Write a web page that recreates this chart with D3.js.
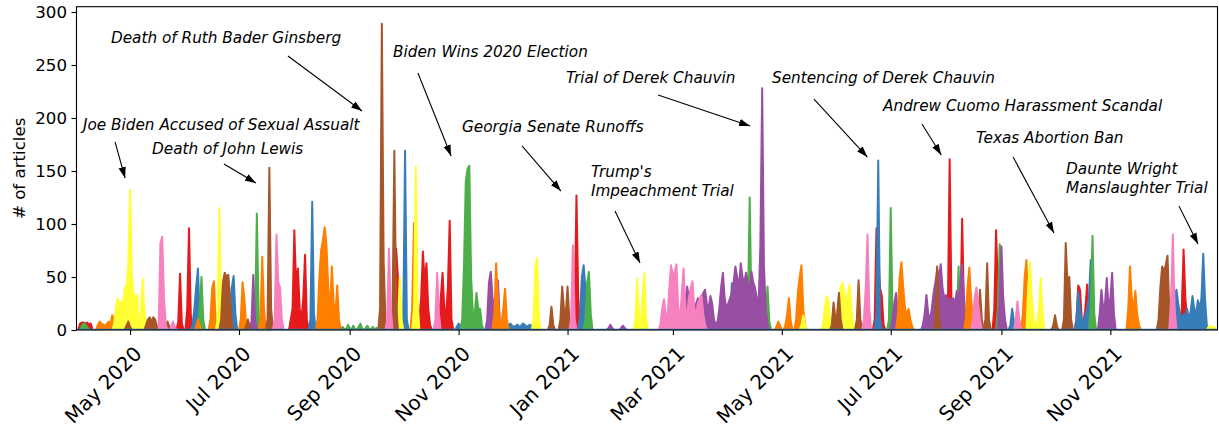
<!DOCTYPE html>
<html>
<head>
<meta charset="utf-8">
<script src="https://cdn.jsdelivr.net/npm/d3@7"></script>
<style>
  body { margin: 0; background: #fff; }
  svg text { font-family: "DejaVu Sans", sans-serif; fill: #000; }
</style>
</head>
<body>
<svg id="chart" width="1219" height="428"></svg>
<script>
// ---------- DATA ----------
// Each event: [first day, daily article counts from that day on]
const seriesNames = ["red", "blue", "green", "purple", "orange", "yellow", "brown", "pink"];

const redEvents = [
  ["2020-04-03", [6, 7, 7, 6, 7, 5, 6]],
  ["2020-05-28", [8, 53, 6]],
  ["2020-06-02", [20, 96, 15]],
  ["2020-07-30", [10, 20, 94, 40, 58, 20, 10, 30, 71, 10]],
  ["2020-09-27", [77, 50, 20]],
  ["2020-10-10", [10, 30, 74, 45, 63, 20, 5]],
  ["2020-10-21", [10, 30, 54, 20, 15, 40, 103, 10]],
  ["2021-01-05", [20, 127, 30]],
  ["2021-06-22", [10, 96, 70, 40, 32, 5]],
  ["2021-08-02", [20, 161, 25]],
  ["2021-08-09", [15, 105, 20]],
  ["2021-08-28", [20, 94, 40, 10]],
  ["2021-10-13", [10, 42, 38, 10, 8, 20, 43, 10]],
  ["2021-12-11", [20, 76, 30, 10]]
];

const blueEvents = [
  ["2020-06-05", [5, 20, 40, 58, 10]],
  ["2020-06-23", [5, 15, 8, 20, 40, 51, 15]],
  ["2020-08-10", [10, 121, 15]],
  ["2020-10-01", [8, 169, 10]],
  ["2020-10-31", [3, 6, 4]],
  ["2020-11-25", [3, 5, 4, 3, 5, 6, 4, 3, 4, 5, 3, 4, 6, 5, 3, 4, 5, 3]],
  ["2021-01-08", [15, 50, 61, 40, 10]],
  ["2021-04-02", [10, 44, 10]],
  ["2021-06-23", [15, 160, 10]],
  ["2021-08-23", [5, 16, 5]],
  ["2021-09-06", [5, 20, 8]],
  ["2021-10-13", [10, 36, 20, 5, 10, 15, 20, 30, 66, 10]],
  ["2021-11-28", [5, 15, 25, 20, 15, 20, 25, 15, 20, 30, 38, 25, 15, 10, 15, 12, 20, 10, 18, 32, 20, 15, 28, 20, 30, 72, 30, 5]]
];

const greenEvents = [
  ["2020-04-04", [4, 6, 5, 3]],
  ["2020-06-09", [20, 50, 10]],
  ["2020-07-10", [10, 110, 15]],
  ["2020-08-27", [0, 3, 1, 0, 5, 2, 0, 4, 1, 0, 3, 6, 1, 0, 2, 4, 0, 1, 3, 0, 2]],
  ["2020-11-03", [10, 60, 140, 152, 155, 50, 15, 15, 35, 20, 20, 5]],
  ["2021-01-11", [10, 45, 55, 15]],
  ["2021-04-12", [15, 125, 20]],
  ["2021-04-22", [10, 41, 8]],
  ["2021-06-30", [10, 115, 15]],
  ["2021-08-07", [10, 60, 5]],
  ["2021-08-30", [20, 81, 30]],
  ["2021-10-21", [20, 89, 15]]
];

const purpleEvents = [
  ["2020-07-08", [8, 52, 10]],
  ["2020-08-15", [10, 72, 20]],
  ["2020-11-17", [10, 45, 55, 30, 20, 30, 47, 10]],
  ["2021-01-24", [2, 5, 2]],
  ["2021-01-31", [2, 4, 2]],
  ["2021-03-06", [5, 15, 30, 41, 30, 20, 28, 20, 25, 30, 20, 28, 35, 38, 25, 20, 32, 25, 10, 5,
                  8, 20, 40, 54, 30, 20, 25, 30, 35, 45, 60, 50, 40, 63, 50, 45, 54, 45, 35, 55,
                  45, 40, 30, 25, 80, 228, 60, 20, 5]],
  ["2021-07-02", [10, 25, 35, 15, 5]],
  ["2021-07-19", [5, 15, 33, 15, 10, 20, 35, 45, 57, 50, 62, 40, 30, 33, 25, 30, 28, 30, 25, 37, 25, 45, 62, 30, 10]],
  ["2021-08-31", [30, 79, 30, 10]],
  ["2021-10-26", [15, 38, 20, 25, 49, 20, 30, 54, 15]]
];

const orangeEvents = [
  ["2020-04-13", [5, 8, 6, 5, 4, 6, 8, 5, 14, 10, 3]],
  ["2020-06-07", [3, 10, 4]],
  ["2020-06-15", [10, 40, 46, 5]],
  ["2020-07-02", [10, 45, 30, 5]],
  ["2020-07-13", [10, 69, 20]],
  ["2020-08-14", [10, 50, 75, 85, 97, 80, 40, 20, 60, 25, 15, 42, 10]],
  ["2020-10-06", [20, 101, 30]],
  ["2020-11-21", [15, 63, 30, 10, 5, 20, 39, 10]],
  ["2021-04-28", [3, 8, 4]],
  ["2021-05-03", [5, 15, 30, 8]],
  ["2021-05-09", [10, 35, 50, 61, 20, 5]],
  ["2021-07-05", [15, 50, 64, 40, 20, 15, 20, 10, 3]],
  ["2021-08-12", [10, 40, 59, 30, 10]],
  ["2021-09-13", [15, 50, 66, 20]],
  ["2021-11-11", [20, 60, 30, 20, 37, 15, 5]]
];

const yellowEvents = [
  ["2020-04-22", [5, 20, 30, 25, 27, 20, 40, 42, 60, 132, 50, 34, 30, 33, 5, 10, 48, 20, 3]],
  ["2020-06-19", [10, 115, 15]],
  ["2020-09-28", [5, 49, 10]],
  ["2020-10-07", [20, 154, 30]],
  ["2020-12-13", [10, 60, 68, 10]],
  ["2021-02-08", [10, 48, 15, 5, 30, 54, 10]],
  ["2021-05-12", [5, 14, 5]],
  ["2021-05-24", [5, 20, 32, 28, 10, 5, 5, 10, 20, 30, 40, 45, 35, 20, 35, 43, 20, 5]],
  ["2021-09-16", [40, 64, 30, 10, 5, 5, 20, 49, 15]],
  ["2021-12-26", [3, 4, 2, 3]]
];

const brownEvents = [
  ["2020-04-29", [4, 8, 3]],
  ["2020-05-10", [5, 10, 12, 8, 12, 10, 4]],
  ["2020-05-21", [3, 8, 3]],
  ["2020-06-21", [10, 45, 54, 50, 52, 30, 5]],
  ["2020-07-05", [3, 10, 3]],
  ["2020-07-17", [10, 153, 20]],
  ["2020-09-18", [20, 289, 66, 10]],
  ["2020-09-25", [20, 169, 25]],
  ["2020-12-22", [5, 22, 5]],
  ["2020-12-28", [10, 41, 20, 15, 41, 10]],
  ["2021-05-29", [5, 26, 10, 15, 35, 10]],
  ["2021-06-12", [10, 47, 10]],
  ["2021-07-26", [10, 60, 10]],
  ["2021-08-19", [10, 38, 10]],
  ["2021-08-23", [10, 63, 10]],
  ["2021-09-30", [4, 14, 4]],
  ["2021-10-06", [10, 82, 45, 50, 10]],
  ["2021-11-28", [10, 40, 60, 55, 61, 70, 20, 5]]
];

const pinkEvents = [
  ["2020-05-18", [82, 88, 30, 5]],
  ["2020-05-24", [3, 8, 3]],
  ["2020-07-21", [10, 90, 45, 40, 10]],
  ["2020-09-22", [10, 77, 20]],
  ["2020-10-19", [10, 54, 15]],
  ["2021-01-03", [10, 80, 10]],
  ["2021-02-22", [5, 20, 29, 15, 10, 40, 61, 50, 55, 62, 20, 10, 35, 58, 20, 15, 30, 40, 46, 20, 15, 25, 30, 33, 15, 5]],
  ["2021-06-16", [10, 40, 90, 20]],
  ["2021-08-16", [10, 30, 40, 25, 10]],
  ["2021-09-09", [10, 27, 10]],
  ["2021-12-05", [30, 90, 20]]
];

// axis
const dateRange = ["2020-04-01", "2021-12-31"];
const yRange = [0, 305];
const yTicks = [0, 50, 100, 150, 200, 250, 300];
const xTickDates = ["2020-05-01", "2020-07-01", "2020-09-01", "2020-11-01", "2021-01-01",
                    "2021-03-01", "2021-05-01", "2021-07-01", "2021-09-01", "2021-11-01"];
const xTickLabels = ["May 2020", "Jul 2020", "Sep 2020", "Nov 2020", "Jan 2021",
                     "Mar 2021", "May 2021", "Jul 2021", "Sep 2021", "Nov 2021"];
const yLabel = "# of articles";

// annotations: label lines, text anchor, arrow tail, arrow head (date, value)
const annLabels = [
  ["Joe Biden Accused of Sexual Assualt"],
  ["Death of John Lewis"],
  ["Death of Ruth Bader Ginsberg"],
  ["Biden Wins 2020 Election"],
  ["Georgia Senate Runoffs"],
  ["Trump's", "Impeachment Trial"],
  ["Trial of Derek Chauvin"],
  ["Sentencing of Derek Chauvin"],
  ["Andrew Cuomo Harassment Scandal"],
  ["Texas Abortion Ban"],
  ["Daunte Wright", "Manslaughter Trial"]
];
const annTextDates = ["2020-04-04T15:00", "2020-05-13T07:00", "2020-04-20T07:00", "2020-09-25T07:00",
  "2020-11-02T22:00", "2021-01-14T02:00", "2020-12-31T02:00", "2021-04-25T12:00",
  "2021-06-26T17:00", "2021-08-17T19:00", "2021-10-07T05:00"];
const annTextValues = [188.7, 166, 271.2, 257.3, 186.5, 144.8, 233.3, 233.3, 206.6, 176.7, 147.2];
const annTailDates = ["2020-04-22T14:00", "2020-06-22T14:00", "2020-07-28T10:00", "2020-10-09T05:00",
  "2020-12-06T12:00", "2021-01-27T14:00", "2021-02-20T17:00", "2021-05-19T00:00",
  "2021-07-18T12:00", "2021-09-07T12:00", "2021-12-09T10:00"];
const annTailValues = [177.4, 156.6, 258.5, 242.5, 173.6, 112.3, 221.7, 217.9, 194.3, 163.2, 117];
const annHeadDates = ["2020-04-28T05:00", "2020-07-10T12:00", "2020-09-07T22:00", "2020-10-27T19:00",
  "2020-12-28T07:00", "2021-02-10T14:00", "2021-04-13T05:00", "2021-06-17T22:00",
  "2021-07-29T07:00", "2021-09-30T10:00", "2021-12-20T02:00"];
const annHeadValues = [143.4, 138.7, 206.6, 164.2, 131.1, 63.2, 192.5, 163.2, 165.1, 91.5, 81.1];

// ---------- CHART ----------
const toDate = s => new Date(s.includes("T") ? s + ":00Z" : s + "T00:00:00Z");
const M = { left: 76.5, right: 1217.5, top: 6.7, bottom: 330 };

const x = d3.scaleUtc().domain(dateRange.map(toDate)).range([M.left, M.right]);
const y = d3.scaleLinear().domain(yRange).range([M.bottom, M.top]);
const color = d3.scaleOrdinal().domain(seriesNames).range(d3.schemeSet1.slice(0, 8));

const svg = d3.select("#chart");
const defs = svg.append("defs");
defs.append("clipPath").attr("id", "plotclip")
  .append("rect").attr("x", M.left).attr("y", M.top)
  .attr("width", M.right - M.left).attr("height", M.bottom - M.top);

const allSeries = {
  red: redEvents, blue: blueEvents, green: greenEvents, purple: purpleEvents,
  orange: orangeEvents, yellow: yellowEvents, brown: brownEvents, pink: pinkEvents
};

function eventPoints(ev) {
  const start = toDate(ev[0]);
  const pts = [{ date: d3.utcDay.offset(start, -1), v: 0 }];
  ev[1].forEach((v, i) => pts.push({ date: d3.utcDay.offset(start, i), v }));
  pts.push({ date: d3.utcDay.offset(start, ev[1].length), v: 0 });
  return pts;
}

const area = d3.area().x(d => x(d.date)).y0(y(0)).y1(d => y(d.v));

const plot = svg.append("g").attr("clip-path", "url(#plotclip)");
seriesNames.forEach(name => {
  const g = plot.append("g");
  allSeries[name].forEach(ev => {
    g.append("path")
      .datum(eventPoints(ev))
      .attr("d", area)
      .attr("fill", color(name))
      .attr("stroke", color(name))
      .attr("stroke-width", 2)
      .attr("stroke-linejoin", "round");
  });
});

// spines
svg.append("rect")
  .attr("x", M.left).attr("y", M.top)
  .attr("width", M.right - M.left).attr("height", M.bottom - M.top)
  .attr("fill", "none").attr("stroke", "#000").attr("stroke-width", 1.1);

// baseline (zero line of the last series)
plot.append("line")
  .attr("x1", x(toDate(dateRange[0]))).attr("x2", x(toDate(dateRange[1])))
  .attr("y1", y(0) - 0.3).attr("y2", y(0) - 0.3)
  .attr("stroke", color("blue")).attr("stroke-width", 2);

// y axis
const yAxis = svg.append("g")
  .attr("transform", `translate(${M.left},0)`)
  .call(d3.axisLeft(y).tickValues(yTicks).tickSize(5).tickPadding(4.5));
yAxis.select(".domain").remove();
yAxis.selectAll("line").attr("stroke", "#000").attr("stroke-width", 1.1);
yAxis.selectAll("text").attr("font-size", "16.67px").attr("font-family", "DejaVu Sans");

// x axis
const xAxis = svg.append("g")
  .attr("transform", `translate(0,${M.bottom})`)
  .call(d3.axisBottom(x).tickValues(xTickDates.map(toDate)).tickSize(5)
    .tickFormat((d, i) => xTickLabels[i]));
xAxis.select(".domain").remove();
xAxis.selectAll("line").attr("stroke", "#000").attr("stroke-width", 1.1);
xAxis.selectAll("text")
  .attr("font-size", "20px").attr("font-family", "DejaVu Sans")
  .attr("text-anchor", "end")
  .attr("x", 0).attr("y", 0).attr("dy", 0)
  .attr("transform", "translate(12.5,25) rotate(-45)");

// y label
svg.append("text")
  .attr("transform", `translate(24.5,${(M.top + M.bottom) / 2}) rotate(-90)`)
  .attr("text-anchor", "middle")
  .attr("font-size", "16.67px")
  .text(yLabel);

// annotations
defs.append("marker").attr("id", "ah")
  .attr("markerUnits", "userSpaceOnUse")
  .attr("viewBox", "0 0 11 8").attr("markerWidth", 11).attr("markerHeight", 8)
  .attr("refX", 11).attr("refY", 4).attr("orient", "auto")
  .append("path").attr("d", "M0,0.3 L11,4 L0,7.7 Z").attr("fill", "#000");

const annG = svg.append("g");
annLabels.forEach((lines, i) => {
  const tx = x(toDate(annTextDates[i])), ty = y(annTextValues[i]);
  const t = annG.append("text")
    .attr("x", tx).attr("y", ty)
    .attr("font-size", "15.28px").attr("font-style", "italic");
  lines.forEach((ln, j) => {
    t.append("tspan").attr("x", tx).attr("dy", j === 0 ? 0 : 19.3).text(ln);
  });
  const x1 = x(toDate(annTailDates[i])), y1 = y(annTailValues[i]);
  const x2 = x(toDate(annHeadDates[i])), y2 = y(annHeadValues[i]);
  annG.append("line")
    .attr("x1", x1).attr("y1", y1).attr("x2", x2).attr("y2", y2)
    .attr("stroke", "#000").attr("stroke-width", 1.1)
    .attr("marker-end", "url(#ah)");
});
</script>
</body>
</html>
